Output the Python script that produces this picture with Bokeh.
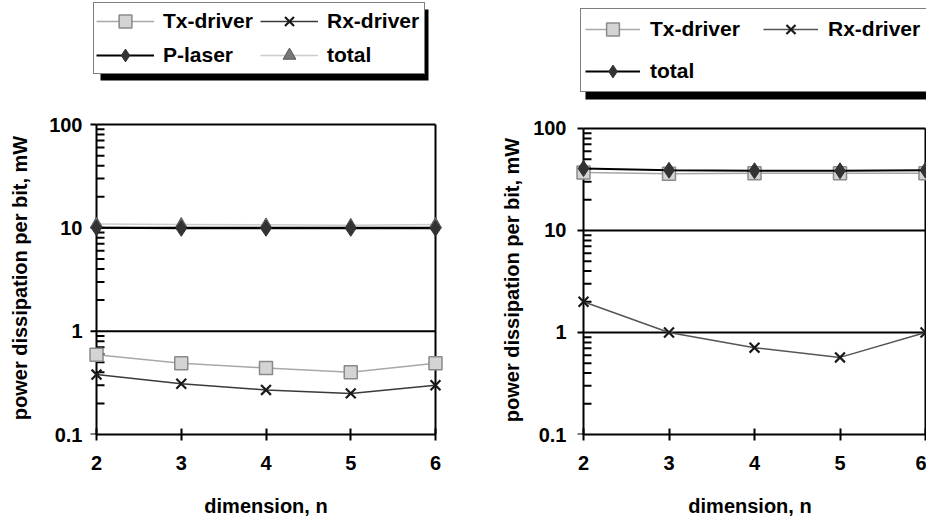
import math
from bokeh.plotting import figure
from bokeh.models import (Legend, LegendItem, FixedTicker, BoxAnnotation,
                          CustomJSTickFormatter, Range1d)
from bokeh.layouts import row, column
from bokeh.embed import file_html
from bokeh.resources import INLINE

# ---------------- data ----------------
dims = [2, 3, 4, 5, 6]

# left panel
a_tx = [0.59, 0.49, 0.44, 0.40, 0.49]
a_rx = [0.38, 0.31, 0.27, 0.25, 0.30]
a_laser = [10.0, 9.9, 9.9, 9.9, 9.9]
a_total = [10.9, 10.8, 10.7, 10.6, 10.8]

# right panel
b_tx = [37.0, 36.0, 36.5, 36.5, 36.5]
b_rx = [2.0, 1.0, 0.71, 0.57, 1.0]
b_total = [40.5, 39.0, 38.5, 38.5, 39.0]

y_major = [0.1, 1, 10, 100]
y_grid = [1, 10]
x_label = "dimension, n"
y_label = "power dissipation per bit, mW"

FONT = "Liberation Sans"
FS = "20px"
LFS = "21px"

minor = [m * d for d in [0.1, 1, 10] for m in range(2, 10)]

X0, X1 = dims[0], dims[-1]
Y0, Y1 = y_major[0], y_major[-1]
Y_TOP = 107  # a few pixels of headroom above 100 so the frame's top line is not clipped


def make_fig(width, height, b_left, b_right, x_lo, x_hi, ytick_standoff,
             ylabel_standoff, right_edge=True):
    p = figure(width=width, height=height, y_axis_type="log",
               x_range=Range1d(x_lo, x_hi), y_range=Range1d(Y0, Y_TOP),
               output_backend="svg", toolbar_location=None,
               min_border_left=b_left, min_border_right=b_right,
               min_border_top=17, min_border_bottom=88,
               background_fill_color="white", border_fill_color="white")
    p.outline_line_color = None
    p.xgrid.visible = False
    p.ygrid.visible = False

    # horizontal grid lines at 1 and 10, spanning the data extent
    p.segment(x0=[X0] * len(y_grid), x1=[X1] * len(y_grid), y0=y_grid, y1=y_grid,
              line_color="black", line_width=2)
    # frame: top edge, left (y axis line) and right edge
    p.segment(x0=[X0], x1=[X1], y0=[Y1], y1=[Y1], line_color="black", line_width=2)
    p.segment(x0=[X0], x1=[X0], y0=[Y0], y1=[Y1], line_color="black", line_width=2)
    if right_edge:
        p.segment(x0=[X1], x1=[X1], y0=[Y0], y1=[Y1], line_color="black", line_width=2)
    # y ticks at x = 2: minor ticks inward, major ticks outward
    p.ray(x=[X0] * len(minor), y=minor, length=8, angle=0, length_units="screen",
          line_color="black", line_width=2)
    p.ray(x=[X0] * len(y_major), y=y_major, length=6, angle=math.pi,
          length_units="screen", line_color="black", line_width=2)

    xa = p.xaxis[0]
    xa.ticker = FixedTicker(ticks=dims)
    xa.bounds = (X0, X1)
    xa.major_tick_in = 6
    xa.major_tick_out = 6
    xa.minor_tick_line_color = None
    xa.axis_line_width = 2
    xa.major_tick_line_width = 2
    xa.major_tick_line_color = "black"
    xa.axis_line_color = "black"
    xa.major_label_standoff = 15
    xa.axis_label = x_label
    xa.axis_label_standoff = 22

    ya = p.yaxis[0]
    ya.ticker = FixedTicker(ticks=y_major, minor_ticks=minor)
    ya.formatter = CustomJSTickFormatter(
        code="return tick < 1 ? tick.toFixed(1) : tick.toFixed(0);")
    ya.major_tick_in = 0
    ya.major_tick_out = 0
    ya.minor_tick_in = 0
    ya.minor_tick_out = 0
    ya.axis_line_color = None
    ya.major_tick_line_color = None
    ya.minor_tick_line_color = None
    ya.major_label_standoff = ytick_standoff
    ya.axis_label = y_label
    ya.axis_label_standoff = ylabel_standoff

    for ax in (xa, ya):
        ax.major_label_text_font = FONT
        ax.major_label_text_font_style = "bold"
        ax.major_label_text_font_size = FS
        ax.major_label_text_color = "black"
        ax.axis_label_text_font = FONT
        ax.axis_label_text_font_style = "bold"
        ax.axis_label_text_font_size = FS
        ax.axis_label_text_color = "black"
    return p


def legend_fig(width, height, b_left, b_right):
    f = figure(width=width, height=height, x_range=Range1d(-10, -9),
               y_range=Range1d(-10, -9), x_axis_type=None, y_axis_type=None,
               output_backend="svg", toolbar_location=None,
               min_border_left=b_left, min_border_right=b_right,
               min_border_top=0, min_border_bottom=0,
               background_fill_color="white", border_fill_color="white")
    f.outline_line_color = None
    f.xgrid.visible = False
    f.ygrid.visible = False
    return f


def style_legend(lg, glyph_w, glyph_h, standoff, spacing, padding, label_w):
    lg.orientation = "horizontal"
    lg.ncols = 2
    lg.label_text_font = FONT
    lg.label_text_font_style = "bold"
    lg.label_text_font_size = LFS
    lg.label_text_color = "black"
    lg.border_line_color = "black"
    lg.border_line_width = 1
    lg.background_fill_color = "white"
    lg.background_fill_alpha = 1
    lg.glyph_width = glyph_w
    lg.glyph_height = glyph_h
    lg.label_standoff = standoff
    lg.label_width = label_w
    lg.spacing = spacing
    lg.padding = padding
    lg.margin = 0


def shadow(left, right, bottom, top):
    return BoxAnnotation(left=left, right=right, bottom=bottom, top=top,
                         left_units="screen", right_units="screen",
                         top_units="screen", bottom_units="screen",
                         fill_color="black", fill_alpha=1, line_color=None)


# series styles
ST_TX_L = dict(line_color="#a8a8a8", line_width=1.5)
ST_TX_M = dict(marker="square", size=13, fill_color="#d4d4d4",
               line_color="#8a8a8a", line_width=1.5)
ST_RX_M = dict(marker="x", size=14, line_color="#1a1a1a", line_width=2.2)
ST_RXL_L = dict(line_color="#3a3a3a", line_width=1.5)
ST_RXR_L = dict(line_color="#555555", line_width=1.5)
ST_BLK_L = dict(line_color="black", line_width=2)
ST_DIA_M = dict(marker="diamond", size=16, fill_color="#333333", line_color="#333333")
ST_TOT_L = dict(line_color="#cccccc", line_width=1.5)
ST_TRI_M = dict(marker="triangle", size=12, fill_color="#777777", line_color="#555555")


def series(fig, xs, ys, lstyle, mstyle):
    return [fig.line(xs, ys, **lstyle), fig.scatter(xs, ys, **mstyle)]


# ---------------- left panel ----------------
pad_l = 0.118
p1 = make_fig(470, 418, 86, 25, X0 - pad_l, X1 + pad_l, 4, 15)
series(p1, dims, a_tx, ST_TX_L, ST_TX_M)
series(p1, dims, a_rx, ST_RXL_L, ST_RX_M)
series(p1, dims, a_total, ST_TOT_L, ST_TRI_M)
series(p1, dims, a_laser, ST_BLK_L, ST_DIA_M)

L1 = legend_fig(470, 104, 86, 25)
l_tx = series(L1, dims, a_tx, ST_TX_L, ST_TX_M)
l_rx = series(L1, dims, a_rx, ST_RXL_L, ST_RX_M)
l_las = series(L1, dims, a_laser, ST_BLK_L, ST_DIA_M)
l_tot = series(L1, dims, a_total, ST_TOT_L, ST_TRI_M)
L1.add_layout(shadow(14, 342, 24, 95))
lg1 = Legend(items=[
    LegendItem(label="Tx-driver", renderers=l_tx),
    LegendItem(label="Rx-driver", renderers=l_rx),
    LegendItem(label="P-laser", renderers=l_las),
    LegendItem(label="total", renderers=l_tot),
], location=(7, 30))
style_legend(lg1, 58, 32, 9, 2, 2, 95)
L1.add_layout(lg1)

# ---------------- right panel ----------------
pad_r = 0.117
p2 = make_fig(456, 414, 103, 0, X0 - pad_r, 6.0117, 7, 7)
series(p2, dims, b_tx, ST_TX_L, ST_TX_M)
series(p2, dims, b_rx, ST_RXR_L, ST_RX_M)
series(p2, dims, b_total, ST_BLK_L, ST_DIA_M)

L2 = legend_fig(456, 108, 103, 0)
m_tx = series(L2, dims, b_tx, ST_TX_L, ST_TX_M)
m_rx = series(L2, dims, b_rx, ST_RXR_L, ST_RX_M)
m_tot = series(L2, dims, b_total, ST_BLK_L, ST_DIA_M)
L2.add_layout(shadow(12, 400, 9, 92))
lg2 = Legend(items=[
    LegendItem(label="Tx-driver", renderers=m_tx),
    LegendItem(label="Rx-driver", renderers=m_rx),
    LegendItem(label="total", renderers=m_tot),
], location=(7, 16))
style_legend(lg2, 55, 32, 10, 10, 4, 103)
L2.add_layout(lg2)

layout = row(column(L1, p1, spacing=0), column(L2, p2, spacing=0), spacing=0)
open("out.html", "w").write(file_html(layout, INLINE))
